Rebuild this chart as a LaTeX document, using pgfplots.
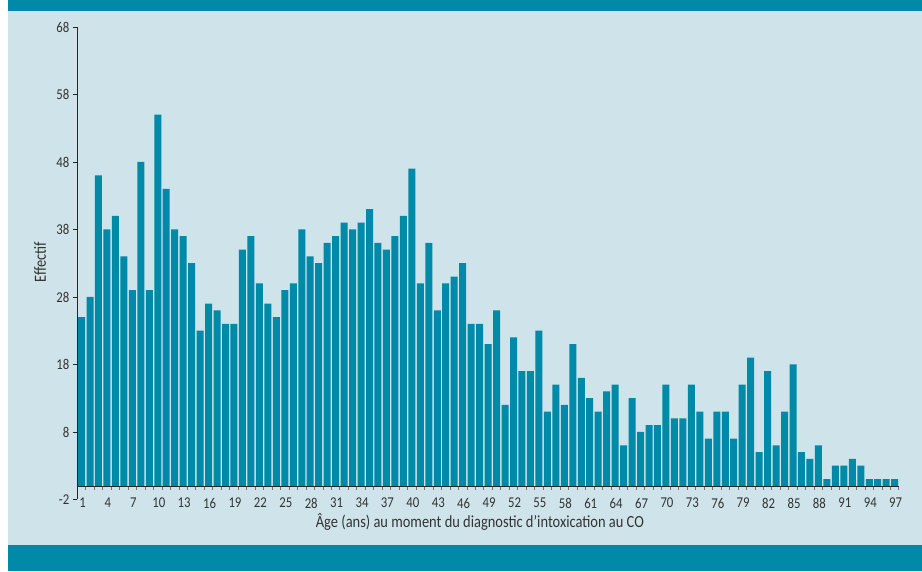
\documentclass[border=0pt]{standalone}
\usepackage{fontspec}
\setmainfont{Carlito}[FakeStretch=0.85]
\usepackage{pgfplots}
\usepackage{pgfplotstable}
\pgfplotsset{compat=1.18}
\definecolor{teal1}{HTML}{008AA8}
\definecolor{bgblue}{HTML}{CEE4EA}
\definecolor{txt}{HTML}{333333}

\pgfplotstableread{
age n
1 25
2 28
3 46
4 38
5 40
6 34
7 29
8 48
9 29
10 55
11 44
12 38
13 37
14 33
15 23
16 27
17 26
18 24
19 24
20 35
21 37
22 30
23 27
24 25
25 29
26 30
27 38
28 34
29 33
30 36
31 37
32 39
33 38
34 39
35 41
36 36
37 35
38 37
39 40
40 47
41 30
42 36
43 26
44 30
45 31
46 33
47 24
48 24
49 21
50 26
51 12
52 22
53 17
54 17
55 23
56 11
57 15
58 12
59 21
60 16
61 13
62 11
63 14
64 15
65 6
66 13
67 8
68 9
69 9
70 15
71 10
72 10
73 15
74 11
75 7
76 11
77 11
78 7
79 15
80 19
81 5
82 17
83 6
84 11
85 18
86 5
87 4
88 6
89 1
90 3
91 3
92 4
93 3
94 1
95 1
96 1
97 1
}\data

\begin{document}
\begin{tikzpicture}[x=1pt,y=1pt]
\useasboundingbox (0,0) rectangle (922,571);
\fill[white] (0,0) rectangle (922,571);
\fill[bgblue] (8,26) rectangle (922,560);
\fill[teal1] (8,560) rectangle (922,571);
\fill[teal1] (8,0) rectangle (922,26);
\begin{axis}[
  at={(77.3pt,71.5pt)}, anchor=south west,
  x=8.47pt, y=6.75pt,
  xmin=0.5, xmax=97.5, ymin=-2, ymax=68,
  axis y line=left, axis x line=middle,
  axis line style={-, black!85, line width=0.8pt},
  xtick={1,4,...,97},
  major x tick style={draw=none},
  minor xtick={0.5,1.5,...,97.5},
  minor x tick style={draw=black!55, line width=0.8pt},
  minor tick length=4pt,
  xtick align=outside,
  ytick={-2,8,...,68},
  ytick align=outside,
  major y tick style={black!85, line width=0.8pt},
  major tick length=4.5pt,
  /pgf/number format/assume math mode=true,
  ticklabel style={font=\fontsize{15}{15}\selectfont, text=txt},
  xticklabel style={yshift=-4pt, xshift=1pt},
  yticklabel style={xshift=0pt},
  xlabel={Âge (ans) au moment du diagnostic d'intoxication au CO},
  ylabel={Effectif},
  label style={font=\fontsize{17}{18}\selectfont, text=txt},
  xlabel style={at={(axis description cs:0.49,-0.0476)}, anchor=center},
  ylabel style={at={(axis description cs:-0.0454,0.503)}, anchor=center},
  clip=false,
]
\addplot[ybar, bar width=7pt, fill=teal1, draw=none] table[x=age,y=n]{\data};
\end{axis}
\end{tikzpicture}
\end{document}
